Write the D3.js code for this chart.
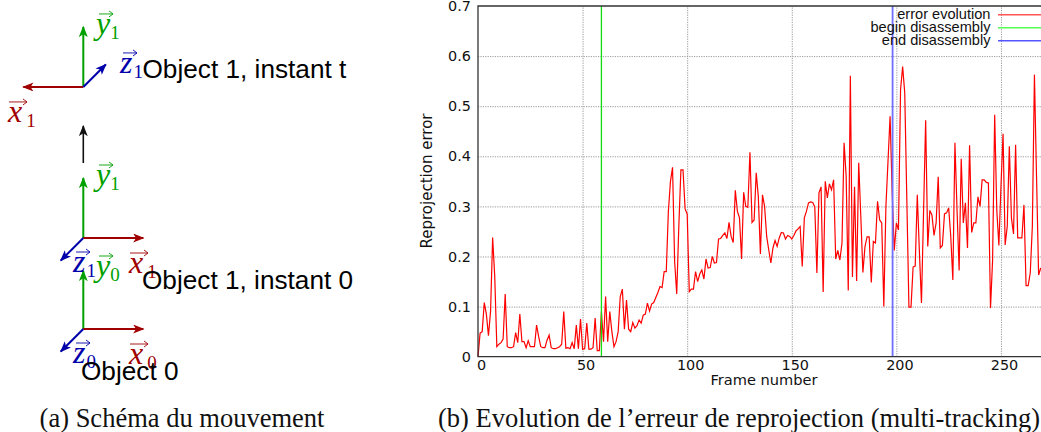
<!DOCTYPE html>
<html>
<head>
<meta charset="utf-8">
<script src="https://cdn.jsdelivr.net/npm/d3@7"></script>
<style>
html,body{margin:0;padding:0;background:#fff;overflow:hidden}
svg{display:block}
.tick-label{font-family:"DejaVu Sans";font-size:14.4px;fill:#111}
.legend{font-family:"Liberation Sans";font-size:14.6px;fill:#111}
.caption{font-family:"Liberation Serif";font-size:26.5px;fill:#111}
.object{font-family:"Liberation Sans";font-size:26.2px;fill:#000}
</style>
</head>
<body>
<svg id="fig" width="1041" height="432"></svg>
<script>
// right panel data, one value per frame
var errorEvolution=[
 0,.047,.05,.108,.085,.042,.09,.238,.16,.02,.025,.028,.035,.125,.02,.018,.018,.02,.048,.028,
 .085,.03,.03,.018,.032,.02,.02,.02,.063,.04,.02,.018,.018,.033,.043,.018,.016,.016,.018,.02,
 .025,.09,.017,.018,.016,.028,.016,.063,.016,.075,.015,.016,.067,.015,.015,.018,.077,.012,.012,.09,
 .03,.12,.03,.09,.05,.02,.03,.05,.12,.135,.055,.113,.055,.05,.068,.057,.062,.073,.067,.083,
 .085,.107,.091,.105,.108,.118,.128,.14,.138,.17,.17,.29,.35,.378,.19,.125,.26,.373,.373,.295,
 .285,.13,.135,.135,.17,.15,.165,.173,.155,.195,.177,.178,.2,.187,.188,.235,.236,.242,.247,.236,
 .268,.24,.228,.332,.29,.277,.195,.328,.3,.298,.408,.268,.273,.367,.32,.205,.323,.3,.24,.213,
 .187,.217,.232,.22,.237,.248,.247,.235,.242,.24,.235,.242,.251,.255,.26,.18,.277,.29,.307,.309,
 .308,.299,.167,.327,.339,.129,.35,.317,.345,.333,.353,.195,.212,.193,.227,.427,.36,.132,.561,.159,
 .339,.151,.387,.28,.168,.22,.239,.239,.148,.23,.227,.31,.273,.267,.1,.3,.39,.48,.327,.212,
 .267,.253,.533,.579,.527,.313,.099,.099,.179,.181,.323,.21,.107,.29,.472,.22,.292,.283,.242,.267,
 .359,.217,.222,.285,.287,.297,.24,.153,.427,.293,.172,.395,.267,.307,.217,.422,.248,.267,.267,.319,
 .3,.353,.353,.348,.347,.097,.193,.483,.293,.222,.34,.445,.223,.26,.42,.277,.245,.423,.237,.237,
 .237,.303,.142,.142,.167,.26,.563,.36,.163,.177];
var beginFrame=59, endFrame=198;
var xTicks=[0,50,100,150,200,250];
var yTicks=[0,.1,.2,.3,.4,.5,.6,.7];
var legendNames=['error evolution','begin disassembly','end disassembly'];
var captions=['(a) Schéma du mouvement','(b) Evolution de l’erreur de reprojection (multi-tracking)'];

// left panel: frame heights in diagram units, arrow directions are set per frame
var frameHeights=[0,1,2.66];
var xDirs=[1,1,-1];
var zDirs=[-1,-1,1];
var frameIndex=['0','1','1'];
var objectNames=['Object 0','Object 1, instant 0','Object 1, instant t'];

var red='#a00000',green='#00a000',blue='#0000aa';
var svg=d3.select('#fig');

// ---------- right panel ----------
var x=d3.scaleLinear().domain([0,270]).range([478,1042.8]),
    y=d3.scaleLinear().domain([0,.7]).range([356.7,6]);

var gridY=svg.append('g').attr('transform','translate(478,0)')
   .call(d3.axisLeft(y).tickValues(yTicks.slice(1,-1)).tickSize(-570).tickFormat(''));
var gridX=svg.append('g').attr('transform','translate(0,356.7)')
   .call(d3.axisBottom(x).tickValues(xTicks.slice(1)).tickSize(-350.7).tickFormat(''));
[gridY,gridX].forEach(function(g){
  g.select('.domain').remove();
  g.selectAll('line').attr('stroke','#999').attr('stroke-dasharray','1.2,1.2');
});

var line=d3.line().x(function(d,i){return x(i);}).y(function(d){return y(d);});
svg.append('path').datum(errorEvolution).attr('d',line)
   .attr('fill','none').attr('stroke','#f00').attr('stroke-width',1.2)
   .attr('stroke-linejoin','miter');

svg.append('line').attr('x1',x(beginFrame)).attr('x2',x(beginFrame))
   .attr('y1',y(0)).attr('y2',y(.7)).attr('stroke','#1d1').attr('stroke-width',1.3);
svg.append('line').attr('x1',x(endFrame)+.4).attr('x2',x(endFrame)+.4)
   .attr('y1',y(0)).attr('y2',y(.7)).attr('stroke','#7070ff').attr('stroke-width',1.8);

// frame of the plot, no right edge because the picture is cut there
var border=d3.path();
border.moveTo(1041,y(.7));border.lineTo(x(0),y(.7));border.lineTo(x(0),y(0));border.lineTo(1041,y(0));
svg.append('path').attr('d',border.toString()).attr('fill','none')
   .attr('stroke','#333').attr('stroke-width',1.3);

var axL=svg.append('g').attr('transform','translate(478,0)')
   .call(d3.axisLeft(y).tickValues(yTicks).tickSize(0).tickPadding(7).tickFormat(function(d){return d===0?'0':d3.format('.1f')(d);}));
var axB=svg.append('g').attr('transform','translate(0,356.7)')
   .call(d3.axisBottom(x).tickValues(xTicks).tickSize(0).tickPadding(3));
[axL,axB].forEach(function(g){
  g.select('.domain').remove();
  g.selectAll('text').attr('class','tick-label').attr('font-size',null).attr('font-family',null);
  g.attr('font-size',null).attr('font-family',null);
});
axB.selectAll('text').attr('dx',3);

svg.append('text').attr('class','tick-label').attr('x',764).attr('y',385)
   .attr('text-anchor','middle').style('font-size','14.6px').text('Frame number');
svg.append('text').attr('class','tick-label').attr('text-anchor','middle')
   .attr('transform','translate(432,181) rotate(-90)').style('font-size','15px').text('Reprojection error');

var legendColors=['#f55','#5f5','#55f'];
legendNames.forEach(function(name,i){
  var ly=14.7+i*13;
  svg.append('text').attr('class','legend').attr('x',990.5).attr('y',ly+4.5)
     .attr('text-anchor','end').text(name);
  svg.append('line').attr('x1',998).attr('x2',1041).attr('y1',ly).attr('y2',ly)
     .attr('stroke',legendColors[i]).attr('stroke-width',1.6);
});

// ---------- left panel ----------
var dy=d3.scaleLinear().domain([0,1]).range([329,238]);
var ox=83.3, armLen=60, zLen=22.5;

var defs=svg.append('defs');
[['r',red],['g',green],['b',blue],['k','#111']].forEach(function(m){
  defs.append('marker').attr('id','head'+m[0]).attr('viewBox','0 0 10 8')
     .attr('refX',9).attr('refY',4).attr('markerUnits','userSpaceOnUse')
     .attr('markerWidth',12).attr('markerHeight',9).attr('orient','auto')
     .append('path').attr('d','M0,0L10,4L0,8L2.5,4Z').attr('fill',m[1]);
});

function arrow(x1,y1,x2,y2,col,id,w){
  svg.append('line').attr('x1',x1).attr('y1',y1).attr('x2',x2).attr('y2',y2)
     .attr('stroke',col).attr('stroke-width',w).attr('marker-end','url(#head'+id+')');
}

// letter with a vector sign and an index, the way LaTeX sets it
var subGap={x:4,y:0,z:1}, signFrom={x:1,y:3,z:3}, signTo={x:19,y:17,z:17};
function vec(lx,base,letter,sub,col){
  var t=svg.append('text').attr('x',lx).attr('y',base).attr('fill',col)
     .attr('font-family','Liberation Serif');
  t.append('tspan').attr('font-style','italic').attr('font-size',32).text(letter);
  t.append('tspan').attr('font-size',19).attr('dx',subGap[letter]).attr('dy',5).text(sub);
  var ay=base-20, ax=lx+signFrom[letter], bx=lx+signTo[letter];
  svg.append('path').attr('d','M'+ax+','+ay+'L'+bx+','+ay+'M'+(bx-4)+','+(ay-3)+'L'+bx+','+ay+'L'+(bx-4)+','+(ay+3))
     .attr('fill','none').attr('stroke',col).attr('stroke-width',.9);
}

frameHeights.forEach(function(h,i){
  var oy=dy(h), xd=xDirs[i], zd=zDirs[i];
  arrow(ox,oy,ox,oy-armLen+(i===0?2:0),green,'g',2);
  arrow(ox,oy,ox+xd*armLen,oy,red,'r',2);
  arrow(ox,oy,ox+zd*zLen,oy-zd*zLen,blue,'b',2);
  vec(96,oy-53,'y',i===0?'0':frameIndex[i],green);
  if(xd>0) vec(129,oy+35,'x',frameIndex[i],red);
  else vec(8,oy+35,'x',frameIndex[i],red);
  if(zd<0) vec(73,oy+34,'z',frameIndex[i],blue);
  else vec(120,oy-14,'z',frameIndex[i],blue);
});

arrow(ox,163,ox,126,'#111','k',1.6);

svg.append('text').attr('class','object').attr('x',81).attr('y',380).text(objectNames[0]);
svg.append('text').attr('class','object').attr('x',142).attr('y',289).text(objectNames[1]);
svg.append('text').attr('class','object').attr('x',142.5).attr('y',78).text(objectNames[2]);

svg.append('text').attr('class','caption').attr('x',182).attr('y',427).attr('text-anchor','middle').text(captions[0]);
svg.append('text').attr('class','caption').attr('x',739).attr('y',427).attr('text-anchor','middle').text(captions[1]);
</script>
</body>
</html>
